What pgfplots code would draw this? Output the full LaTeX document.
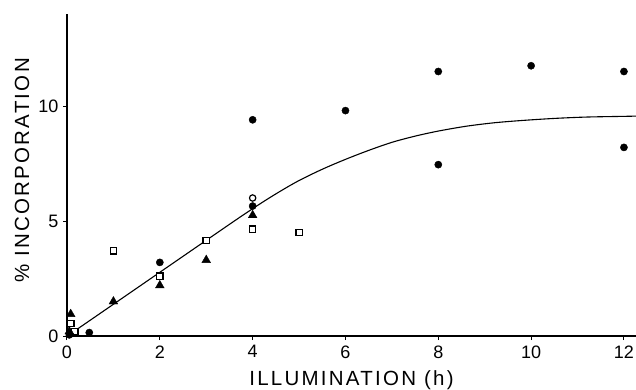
\documentclass[border=0pt]{standalone}
\usepackage{pgfplots}
\pgfplotsset{compat=1.18}
\usepackage{fontspec}
\setmainfont{Liberation Sans}
\newfontfamily\labelfont[LetterSpace=11]{Liberation Sans}
\begin{document}
\begin{tikzpicture}
\path[use as bounding box] (-67pt,-53pt) rectangle (569pt,336pt);
\begin{axis}[
  scale only axis,
  width=569pt, height=322pt,
  xmin=0, xmax=12.26, ymin=0, ymax=14,
  axis lines*=left,
  axis line style={line width=2pt},
  xtick={0,2,4,6,8,10,12},
  ytick={0,5,10},
  tick align=outside,
  major tick length=4pt,
  tick style={line width=1pt, black},
  /pgf/number format/assume math mode=true,
  ticklabel style={font=\fontsize{18}{18}\selectfont},
  xticklabel style={yshift=-2pt},
  yticklabel style={xshift=-1pt},
  xlabel={ILLUMINATION (h)},
  ylabel={\% INCORPORATION},
  xlabel style={font=\labelfont\fontsize{20.5}{20.5}\selectfont, at={(axis description cs:0.5,-0.106)}, anchor=north, inner sep=0pt},
  ylabel style={font=\labelfont\fontsize{20.5}{20.5}\selectfont, at={(axis description cs:-0.079,0.514)}, anchor=center, rotate=0, inner sep=0pt},
  clip=false,
]
% fitted curve
\addplot[black, line width=1.1pt, smooth] coordinates {
(0.15,0.2) (1,1.38) (2,2.77) (3,4.16) (3.7,5.13) (4.2,5.8) (4.6,6.3) (5,6.76) (5.5,7.25) (6,7.68) (6.5,8.07) (7,8.42) (7.5,8.69) (8,8.91) (8.6,9.12) (9.2,9.27) (9.8,9.37) (10.5,9.46) (11.2,9.52) (12,9.55) (12.26,9.56)
};
% filled circles
\addplot[only marks, mark=*, mark size=3.6pt, black] coordinates {
(0.05,0.05) (0.48,0.15) (2,3.2) (4,5.65) (4,9.4) (6,9.8) (8,11.5) (8,7.45) (10,11.75) (12,11.5) (12,8.2)
};
% open circle
\addplot[only marks, mark=o, mark size=3.2pt, black, mark options={line width=1.2pt, fill=white}] coordinates {
(4,6.0)
};
% open squares
\addplot[only marks, mark=square*, mark size=3.2pt, black, mark options={line width=1.3pt, fill=white}] coordinates {
(0.08,0.55) (0.17,0.2) (1,3.7) (2,2.6) (3,4.15) (4,4.65) (5,4.5)
};
% filled triangles
\addplot[only marks, mark=triangle*, mark size=5pt, black] coordinates {
(0.08,0.95) (0.05,0.2) (1,1.5) (2,2.2) (3,3.3) (4,5.25)
};
\end{axis}
\end{tikzpicture}
\end{document}
